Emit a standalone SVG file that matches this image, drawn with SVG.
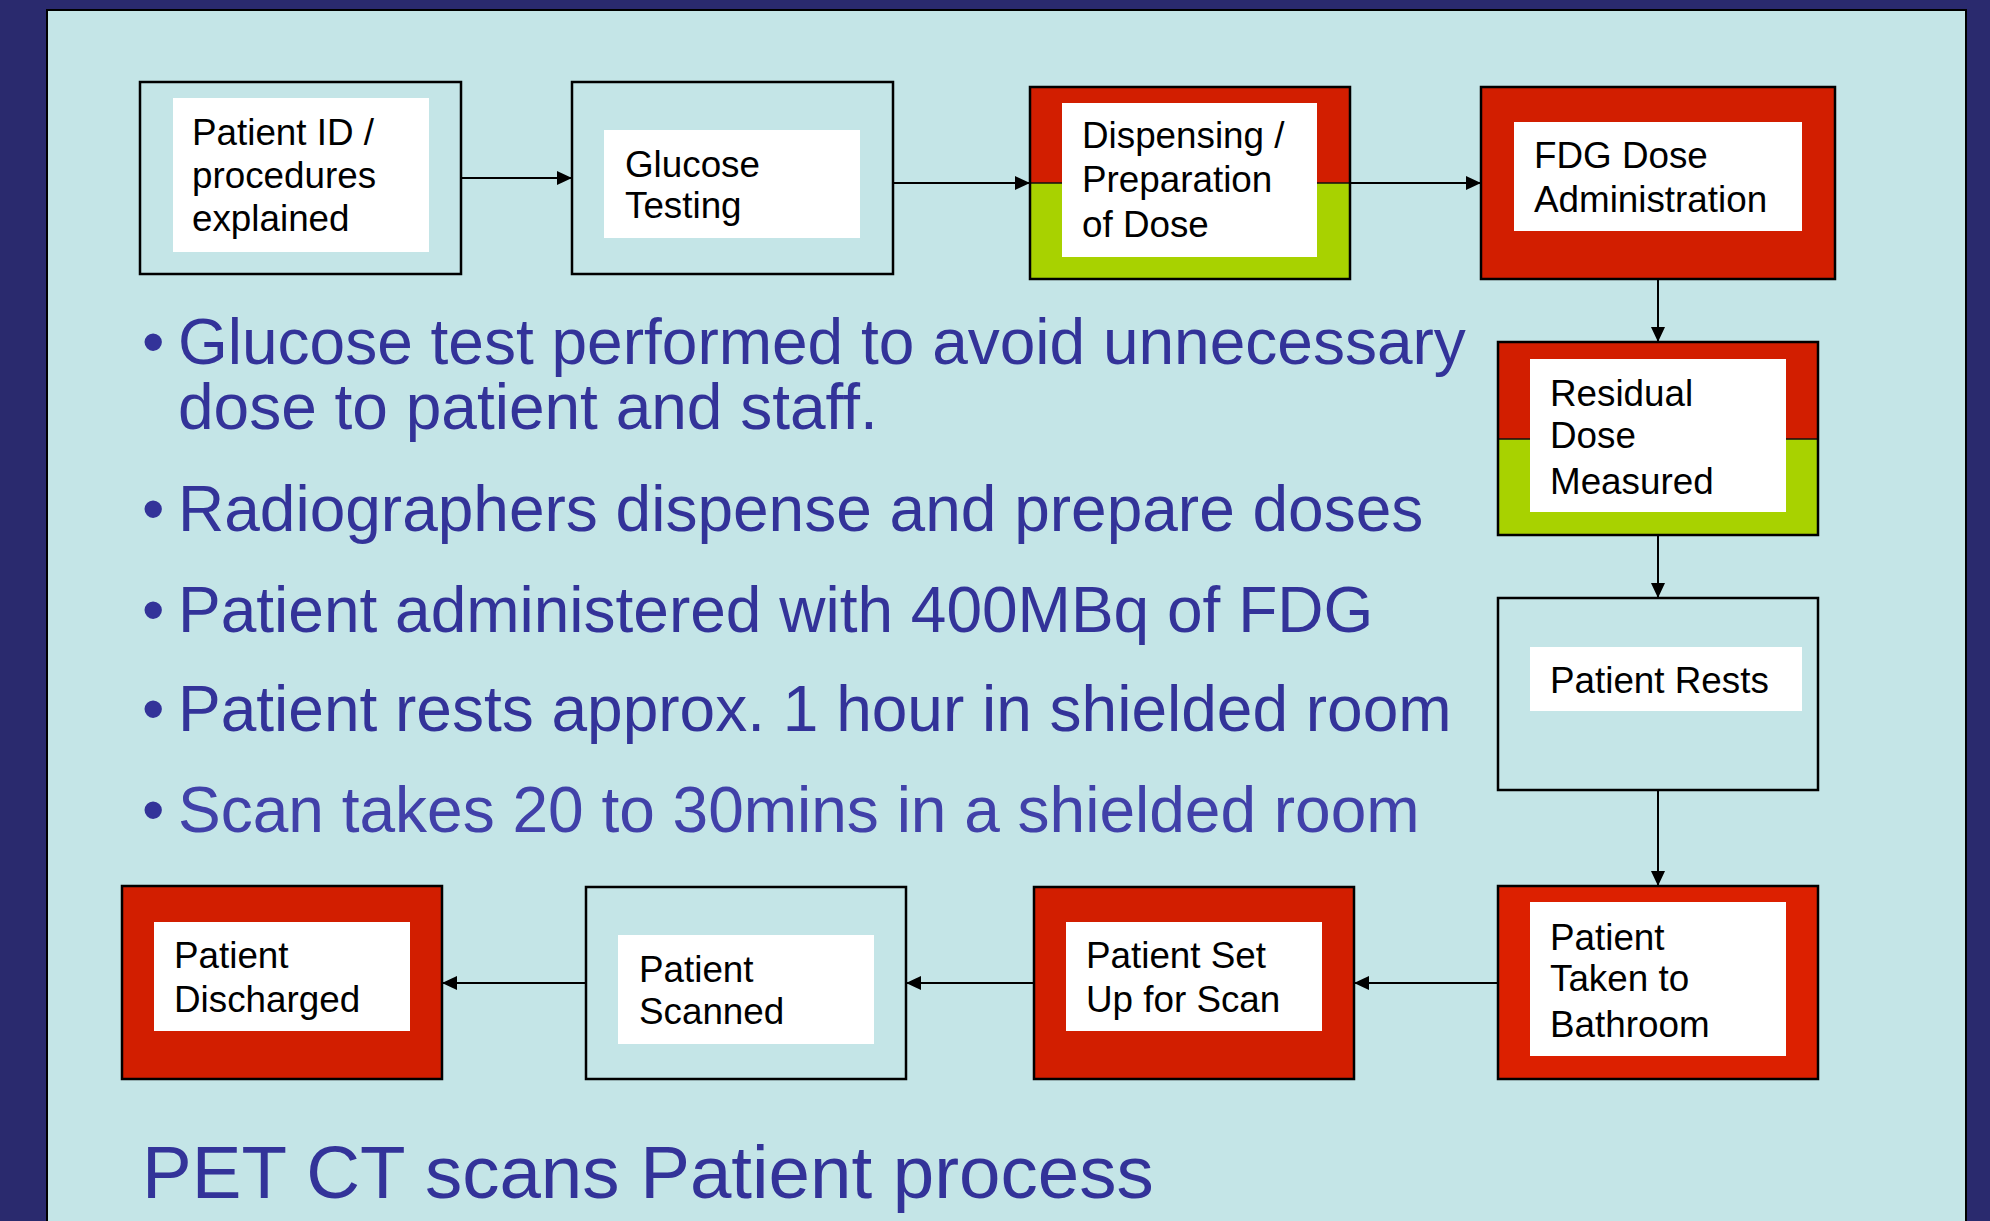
<svg xmlns="http://www.w3.org/2000/svg" width="1990" height="1221" viewBox="0 0 1990 1221">
  <style>
    .frame { fill: none; stroke: #000; stroke-width: 2.5; }
    .plain { fill: #c4e5e7; stroke: #000; stroke-width: 2.5; }
    .red { fill: #d21e00; }
    .green { fill: #a8d200; }
    .split { stroke: #111; stroke-width: 1.5; }
    .label { fill: #fff; }
    .txt { font-family: "Liberation Sans", Arial, sans-serif; font-size: 36.8px; fill: #000; }
    .bullet { font-family: "Liberation Sans", Arial, sans-serif; font-size: 64px; fill: #333399; }
    .title { font-family: "Liberation Sans", Arial, sans-serif; font-size: 74.5px; fill: #333399; }
    .conn { stroke: #000; stroke-width: 2; fill: none; marker-end: url(#arrow); }
  </style>
  <defs>
    <marker id="arrow" markerUnits="userSpaceOnUse" markerWidth="16" markerHeight="14" refX="15" refY="7" orient="auto">
      <path d="M0,0 L15,7 L0,14 Z" fill="#000"/>
    </marker>
  </defs>

  <!-- slide background -->
  <rect x="0" y="0" width="1990" height="1221" fill="#2a2a6e"/>
  <rect x="47" y="10" width="1919" height="1230" fill="#c4e5e7" stroke="#000" stroke-width="2"/>

  <!-- connectors -->
  <g id="connectors">
    <line class="conn" x1="461" y1="178" x2="572" y2="178"/>
    <line class="conn" x1="893" y1="183" x2="1030" y2="183"/>
    <line class="conn" x1="1350" y1="183" x2="1481" y2="183"/>
    <line class="conn" x1="1658" y1="279" x2="1658" y2="342"/>
    <line class="conn" x1="1658" y1="535" x2="1658" y2="598"/>
    <line class="conn" x1="1658" y1="790" x2="1658" y2="886"/>
    <line class="conn" x1="1498" y1="983" x2="1354" y2="983"/>
    <line class="conn" x1="1034" y1="983" x2="906" y2="983"/>
    <line class="conn" x1="586" y1="983" x2="442" y2="983"/>
  </g>

  <!-- top row -->
  <g id="node-patient-id">
    <rect class="plain" x="140" y="82" width="321" height="192"/>
    <rect class="label" x="173" y="98" width="256" height="154"/>
    <text class="txt" x="192" y="145">Patient ID /<tspan x="192" y="188">procedures</tspan><tspan x="192" y="231">explained</tspan></text>
  </g>

  <g id="node-glucose">
    <rect class="plain" x="572" y="82" width="321" height="192"/>
    <rect class="label" x="604" y="130" width="256" height="108"/>
    <text class="txt" x="625" y="177">Glucose<tspan x="625" y="218">Testing</tspan></text>
  </g>

  <g id="node-dispensing">
    <rect class="red" x="1030" y="87" width="320" height="96"/>
    <rect class="green" x="1030" y="183" width="320" height="96"/>
    <line class="split" x1="1030" y1="183" x2="1350" y2="183"/>
    <rect class="frame" x="1030" y="87" width="320" height="192"/>
    <rect class="label" x="1062" y="103" width="255" height="154"/>
    <text class="txt" x="1082" y="148">Dispensing /<tspan x="1082" y="192">Preparation</tspan><tspan x="1082" y="237">of Dose</tspan></text>
  </g>

  <g id="node-fdg">
    <rect class="red" x="1481" y="87" width="354" height="192"/>
    <rect class="frame" x="1481" y="87" width="354" height="192"/>
    <rect class="label" x="1514" y="122" width="288" height="109"/>
    <text class="txt" x="1534" y="168">FDG Dose<tspan x="1534" y="212">Administration</tspan></text>
  </g>

  <!-- right column -->
  <g id="node-residual">
    <rect class="red" x="1498" y="342" width="320" height="97"/>
    <rect class="green" x="1498" y="439" width="320" height="96"/>
    <line class="split" x1="1498" y1="439" x2="1818" y2="439"/>
    <rect class="frame" x="1498" y="342" width="320" height="193"/>
    <rect class="label" x="1530" y="359" width="256" height="153"/>
    <text class="txt" x="1550" y="406">Residual<tspan x="1550" y="448">Dose</tspan><tspan x="1550" y="494">Measured</tspan></text>
  </g>

  <g id="node-rests">
    <rect class="plain" x="1498" y="598" width="320" height="192"/>
    <rect class="label" x="1530" y="647" width="272" height="64"/>
    <text class="txt" x="1550" y="693">Patient Rests</text>
  </g>

  <g id="node-bathroom">
    <rect x="1498" y="886" width="320" height="193" fill="#dc2000"/>
    <rect class="frame" x="1498" y="886" width="320" height="193"/>
    <rect class="label" x="1530" y="902" width="256" height="154"/>
    <text class="txt" x="1550" y="950">Patient<tspan x="1550" y="991">Taken to</tspan><tspan x="1550" y="1037">Bathroom</tspan></text>
  </g>

  <!-- bottom row -->
  <g id="node-setup">
    <rect class="red" x="1034" y="887" width="320" height="192"/>
    <rect class="frame" x="1034" y="887" width="320" height="192"/>
    <rect class="label" x="1066" y="922" width="256" height="109"/>
    <text class="txt" x="1086" y="968">Patient Set<tspan x="1086" y="1012">Up for Scan</tspan></text>
  </g>

  <g id="node-scanned">
    <rect class="plain" x="586" y="887" width="320" height="192"/>
    <rect class="label" x="618" y="935" width="256" height="109"/>
    <text class="txt" x="639" y="982">Patient<tspan x="639" y="1024">Scanned</tspan></text>
  </g>

  <g id="node-discharged">
    <rect class="red" x="122" y="886" width="320" height="193"/>
    <rect class="frame" x="122" y="886" width="320" height="193"/>
    <rect class="label" x="154" y="922" width="256" height="109"/>
    <text class="txt" x="174" y="968">Patient<tspan x="174" y="1012">Discharged</tspan></text>
  </g>

  <!-- bullet list -->
  <g id="notes">
    <text class="bullet" x="142" y="364">•</text>
    <text class="bullet" x="178" y="364">Glucose test performed to avoid unnecessary<tspan x="178" y="429">dose to patient and staff.</tspan></text>
    <text class="bullet" x="142" y="531">•</text>
    <text class="bullet" x="178" y="531">Radiographers dispense and prepare doses</text>
    <text class="bullet" x="142" y="632">•</text>
    <text class="bullet" x="178" y="632">Patient administered with 400MBq of FDG</text>
    <text class="bullet" x="142" y="731">•</text>
    <text class="bullet" x="178" y="731">Patient rests approx. 1 hour in shielded room</text>
    <text class="bullet" x="142" y="832">•</text>
    <text class="bullet" x="178" y="832" style="fill:#4141a9">Scan takes 20 to 30mins in a shielded room</text>
  </g>

  <!-- slide title -->
  <text class="title" x="142" y="1198">PET CT scans Patient process</text>
</svg>
